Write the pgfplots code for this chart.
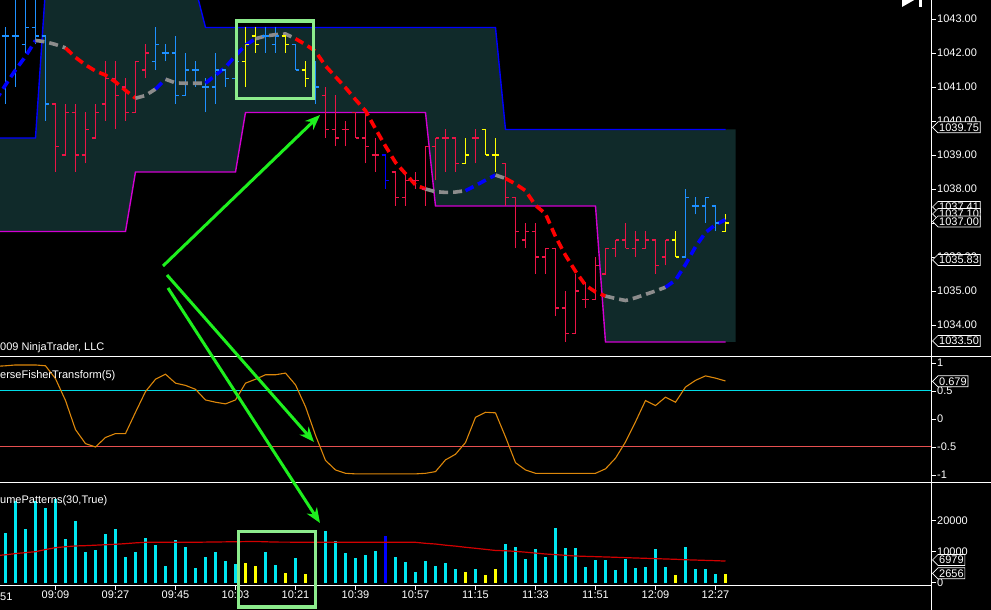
\documentclass[border=0pt]{standalone}
\usepackage{fontspec}
\setmainfont{Liberation Sans}
\usepackage{pgfplots}
\pgfplotsset{compat=1.18}
\usepackage{pgfplotstable}
\usetikzlibrary{arrows.meta, shapes.symbols}

\definecolor{bandfill}{RGB}{16,42,42}
\definecolor{pred}{RGB}{235,20,70}
\definecolor{pblue}{RGB}{30,144,255}
\definecolor{pyel}{RGB}{255,255,0}
\definecolor{pdark}{RGB}{0,0,255}
\definecolor{mared}{RGB}{255,0,0}
\definecolor{mablue}{RGB}{0,0,255}
\definecolor{magray}{RGB}{140,140,140}
\definecolor{bandup}{RGB}{0,0,255}
\definecolor{bandlo}{RGB}{210,0,210}
\definecolor{iftc}{RGB}{220,135,10}
\definecolor{lvlc}{RGB}{0,220,230}
\definecolor{lvlr}{RGB}{230,80,80}
\definecolor{volc}{RGB}{0,230,240}
\definecolor{volavg}{RGB}{210,0,0}
\definecolor{arrowg}{RGB}{30,240,30}
\definecolor{boxg}{RGB}{140,235,140}

\newcommand\tf{\fontsize{11}{12}\selectfont}

\pgfdeclareplotmark{otick}{\pgfpathmoveto{\pgfqpoint{-3.8pt}{0pt}}\pgfpathlineto{\pgfqpoint{0pt}{0pt}}\pgfusepathqstroke}
\pgfdeclareplotmark{ctick}{\pgfpathmoveto{\pgfqpoint{0pt}{0pt}}\pgfpathlineto{\pgfqpoint{3.8pt}{0pt}}\pgfusepathqstroke}

% open / close of the bars, grouped by colour
\pgfplotstableread{
k o c
-5 1042.5 1042.5
-4 1042.5 1042.5
-3 1042.25 1042.75
-2 1042.75 1042.5
-1 1042.5 1040.5
10 1041.75 1042.25
11 1042.0 1042.0
12 1042.0 1040.75
13 1040.75 1041.5
14 1041.5 1041.5
15 1041.0 1041.0
16 1041.0 1041.5
17 1041.5 1041.25
18 1041.25 1041.75
21 1042.5 1042.5
22 1042.25 1042.5
24 1042.25 1041.5
26 1041.25 1041.0
63 1036.0 1037.75
64 1037.5 1037.5
65 1037.5 1037.75
66 1037.5 1037.0
}\barsB
\pgfplotstableread{
k o c
0 1040.5 1039.25
1 1039.0 1040.25
2 1040.25 1039.0
3 1039.0 1039.75
4 1039.5 1040.25
5 1040.5 1041.25
6 1041.25 1040.75
7 1041.0 1040.25
8 1040.25 1041.75
9 1041.5 1042.0
27 1040.75 1039.75
28 1039.75 1039.5
29 1039.75 1039.75
30 1040.25 1039.5
31 1039.5 1039.25
32 1039.0 1039.0
34 1038.5 1037.75
35 1037.75 1038.25
36 1038.25 1038.25
37 1038.0 1039.25
38 1039.25 1039.5
39 1039.5 1039.5
40 1039.5 1038.75
42 1039.5 1039.5
45 1038.75 1037.75
46 1037.75 1036.75
47 1036.5 1036.75
48 1036.75 1036.0
49 1036.0 1036.25
50 1036.25 1034.5
51 1034.5 1033.75
52 1033.75 1035.0
53 1034.75 1034.75
54 1034.75 1035.75
55 1035.5 1036.25
56 1036.25 1036.5
57 1036.5 1036.25
58 1036.25 1036.5
59 1036.25 1036.5
60 1036.5 1035.75
61 1036.0 1036.5
}\barsR
\pgfplotstableread{
k o c
19 1041.75 1042.25
20 1042.5 1042.25
23 1042.5 1042.25
25 1041.5 1041.25
41 1038.75 1039.0
43 1039.75 1039.0
44 1039.0 1039.0
62 1036.5 1036.0
67 1036.75 1037.0
}\barsY
\pgfplotstableread{
k o c
33 1039.0 1038.25
}\barsD

% moving average
\pgfplotstableread{
k v
-6 1040.6
-5 1041.06
-4 1041.5
-3 1041.9
-2 1042.37
-1 1042.33
0 1042.25
1 1042.15
2 1041.87
3 1041.65
4 1041.47
5 1041.35
6 1041.15
7 1040.9
8 1040.67
9 1040.75
10 1040.94
11 1041.23
12 1041.12
13 1041.11
14 1041.11
15 1041.11
16 1041.35
17 1041.58
18 1041.92
19 1042.23
20 1042.42
21 1042.5
22 1042.54
23 1042.56
24 1042.42
25 1042.25
26 1042.05
27 1041.62
28 1041.3
29 1040.98
30 1040.63
31 1040.3
32 1039.77
33 1039.26
34 1038.78
35 1038.45
36 1038.12
37 1038.0
38 1037.92
39 1037.9
40 1037.91
41 1037.95
42 1038.1
43 1038.26
44 1038.41
45 1038.31
46 1038.15
47 1037.95
48 1037.52
49 1037.27
50 1036.6
51 1036.05
52 1035.58
53 1035.17
54 1034.97
55 1034.85
56 1034.78
57 1034.72
58 1034.8
59 1034.9
60 1035.0
61 1035.11
62 1035.32
63 1035.78
64 1036.3
65 1036.72
66 1036.95
67 1037.10
}\ma

% inverse Fisher transform
\pgfplotstableread{
k v
-6 0.94
-5 0.95
-4 0.965
-3 0.965
-2 0.965
-1 0.95
0 0.72
1 0.33
2 -0.19
3 -0.44
4 -0.50
5 -0.33
6 -0.26
7 -0.26
8 0.12
9 0.49
10 0.71
11 0.80
12 0.64
13 0.60
14 0.53
15 0.34
16 0.30
17 0.27
18 0.34
19 0.64
20 0.71
21 0.79
22 0.79
23 0.82
24 0.61
25 0.22
26 -0.29
27 -0.74
28 -0.91
29 -0.97
30 -0.98
31 -0.98
32 -0.98
33 -0.98
34 -0.98
35 -0.98
36 -0.98
37 -0.97
38 -0.94
39 -0.73
40 -0.63
41 -0.42
42 0.03
43 0.12
44 0.11
45 -0.32
46 -0.78
47 -0.91
48 -0.97
49 -0.97
50 -0.97
51 -0.97
52 -0.97
53 -0.97
54 -0.97
55 -0.89
56 -0.70
57 -0.41
58 -0.05
59 0.33
60 0.24
61 0.39
62 0.30
63 0.57
64 0.69
65 0.77
66 0.73
67 0.679
}\ift

% volume
\pgfplotstableread{
k v
-5 16100
-4 26450
-3 17300
-2 26450
-1 24200
0 27000
1 14100
2 19900
3 10000
4 10550
5 15700
6 17300
7 8300
8 10000
9 14500
10 12150
11 5400
12 13750
13 11500
14 4750
15 8300
16 10000
17 7100
18 6050
21 10000
22 5700
24 7950
26 8000
27 16750
28 13450
29 9700
30 8050
31 8950
32 10300
34 8300
35 6750
36 3550
37 7100
38 5500
39 6250
40 4400
42 4400
45 12500
46 11500
47 7650
48 10850
49 8300
50 17650
51 11200
52 11200
53 5050
54 7300
55 7300
56 4100
57 7650
58 4750
59 5050
60 10850
61 5050
63 11500
64 4400
65 4400
66 2800
}\volC
\pgfplotstableread{
k v
19 6450
20 5400
23 3150
25 2800
41 3550
43 2500
44 4400
62 2500
67 2656
}\volY
\pgfplotstableread{
k v
33 15050
}\volD
\pgfplotstableread{
k v
-6 8700
-5 9000
-4 9400
-3 9700
-2 10000
-1 10700
0 11300
1 11600
2 11850
3 11950
4 12100
5 12250
6 12400
7 12600
8 12850
9 13030
14 13050
20 13300
22 13100
27 13030
36 13030
37 12700
38 12480
39 12100
40 11800
41 11420
42 11100
43 10750
44 10400
45 10300
46 10100
47 9850
48 9550
49 9260
50 9050
51 8830
52 8610
53 8500
54 8400
55 8300
56 8200
57 8080
58 7970
59 7870
60 7760
61 7650
62 7550
63 7400
64 7300
65 7200
66 7100
67 6979
}\volavg

\pgfplotsset{ninja/.style={scale only axis, width=931pt, xmin=-5.55, xmax=87.55,
  tick align=outside, major tick length=5pt,
  tick style={draw=white, line width=0.8pt},
  axis line style={draw=white, line width=0.8pt},
  ticklabel style={font=\tf, text=white},
  yticklabel style={anchor=west, inner xsep=1pt},
  scaled y ticks=false,
  clip=true},
  hl/.style={line width=1.2pt, unbounded coords=jump, line cap=butt},
  oc/.style={only marks, mark options={solid, draw=#1, line width=1.2pt}, #1}}

\newcommand\tagat[2]{\node[signal, signal to=west, signal pointer angle=90, draw=white, fill=black,
  text=white, font=\tf, inner xsep=1.2pt, inner ysep=1.6pt, line width=0.7pt, anchor=west]
  at (932,{610-#1}) {#2};}

\begin{document}
\begin{tikzpicture}[x=1pt,y=1pt]
\useasboundingbox (0,0) rectangle (991,610);
\fill[black] (0,0) rectangle (991,610);

% ---------------- price panel ----------------
\begin{axis}[ninja, at={(0pt,254pt)}, anchor=south west, height=356pt,
  ymin=1033.088, ymax=1043.559, axis x line=none, axis y line*=right,
  ytick={1034,1035,1036,1037,1038,1039,1040,1041,1042,1043},
  yticklabels={1034.00,1035.00,1036.00,1037.00,1038.00,1039.00,1040.00,1041.00,1042.00,1043.00}]
\addplot[fill=bandfill, draw=none] coordinates {
 (-6,1039.5) (-2,1039.5) (-1,1043.9) (14,1043.9) (15,1042.75) (44,1042.75) (45,1039.75) (68,1039.75)
 (68,1033.5) (55,1033.5) (54,1037.5) (38,1037.5) (37,1040.25) (19,1040.25) (18,1038.5) (8,1038.5) (7,1036.75) (-6,1036.75)};
\addplot[bandup, line width=1.4pt] coordinates {
 (-6,1039.5) (-2,1039.5) (-1,1043.9) (14,1043.9) (15,1042.75) (44,1042.75) (45,1039.75) (67,1039.75)};
\addplot[bandlo, line width=1.4pt] coordinates {
 (-6,1036.75) (7,1036.75) (8,1038.5) (18,1038.5) (19,1040.25) (37,1040.25) (38,1037.5) (54,1037.5) (55,1033.5) (67,1033.5)};
% high-low ranges
\addplot[pblue, hl] coordinates {
 (-5,1040.5) (-5,1042.75) (-5,nan) (-4,1041.0) (-4,1043.75) (-4,nan) (-3,1042.0) (-3,1043.75) (-3,nan)
 (-2,1042.25) (-2,1043.75) (-2,nan) (-1,1040.0) (-1,1042.5) (-1,nan)
 (10,1041.5) (10,1042.75) (10,nan) (11,1041.75) (11,1042.25) (11,nan) (12,1040.5) (12,1042.5) (12,nan)
 (13,1040.75) (13,1042.0) (13,nan) (14,1041.0) (14,1041.75) (14,nan) (15,1040.25) (15,1041.25) (15,nan)
 (16,1040.5) (16,1042.0) (16,nan) (17,1041.0) (17,1041.5) (17,nan) (18,1041.0) (18,1042.0) (18,nan)
 (21,1042.0) (21,1042.75) (21,nan) (22,1042.0) (22,1042.75) (22,nan) (24,1041.5) (24,1042.25) (24,nan)
 (26,1040.5) (26,1041.75) (26,nan) (63,1036.0) (63,1038.0) (63,nan) (64,1037.25) (64,1037.75) (64,nan)
 (65,1037.0) (65,1037.75) (65,nan) (66,1036.75) (66,1037.5)};
\addplot[pred, hl] coordinates {
 (0,1038.5) (0,1040.5) (0,nan) (1,1039.0) (1,1040.5) (1,nan) (2,1038.5) (2,1040.5) (2,nan)
 (3,1038.75) (3,1040.25) (3,nan) (4,1039.5) (4,1040.5) (4,nan) (5,1040.0) (5,1041.75) (5,nan)
 (6,1039.75) (6,1041.75) (6,nan) (7,1040.0) (7,1041.25) (7,nan) (8,1040.25) (8,1041.75) (8,nan)
 (9,1041.25) (9,1042.25) (9,nan) (27,1039.5) (27,1041.0) (27,nan) (28,1039.25) (28,1040.75) (28,nan)
 (29,1039.25) (29,1040.0) (29,nan) (30,1039.5) (30,1040.25) (30,nan) (31,1038.75) (31,1040.25) (31,nan)
 (32,1038.5) (32,1039.5) (32,nan) (34,1037.5) (34,1038.5) (34,nan) (35,1037.5) (35,1038.5) (35,nan)
 (36,1038.0) (36,1038.5) (36,nan) (37,1037.5) (37,1039.25) (37,nan) (38,1038.25) (38,1039.5) (38,nan)
 (39,1038.5) (39,1039.75) (39,nan) (40,1038.5) (40,1039.5) (40,nan) (42,1038.75) (42,1039.75) (42,nan)
 (45,1037.5) (45,1038.75) (45,nan) (46,1036.25) (46,1037.75) (46,nan) (47,1036.25) (47,1037.0) (47,nan)
 (48,1035.5) (48,1037.0) (48,nan) (49,1035.5) (49,1036.25) (49,nan) (50,1034.25) (50,1036.25) (50,nan)
 (51,1033.5) (51,1035.0) (51,nan) (52,1033.75) (52,1035.5) (52,nan) (53,1034.5) (53,1035.25) (53,nan)
 (54,1034.75) (54,1036.0) (54,nan) (55,1035.5) (55,1036.25) (55,nan) (56,1036.0) (56,1036.5) (56,nan)
 (57,1036.25) (57,1037.0) (57,nan) (58,1036.0) (58,1036.75) (58,nan) (59,1036.25) (59,1036.75) (59,nan)
 (60,1035.5) (60,1036.5) (60,nan) (61,1035.75) (61,1036.5)};
\addplot[pyel, hl] coordinates {
 (19,1041.0) (19,1042.75) (19,nan) (20,1042.0) (20,1042.75) (20,nan) (23,1042.0) (23,1042.5) (23,nan)
 (25,1041.0) (25,1041.75) (25,nan) (41,1038.75) (41,1039.5) (41,nan) (43,1039.0) (43,1039.75) (43,nan)
 (44,1038.5) (44,1039.5) (44,nan) (62,1036.0) (62,1036.75) (62,nan) (67,1036.75) (67,1037.25)};
\addplot[pdark, hl] coordinates {(33,1038.0) (33,1039.0)};
% open and close ticks
\addplot[oc=pblue, mark=otick] table[x=k, y=o] {\barsB};
\addplot[oc=pblue, mark=ctick] table[x=k, y=c] {\barsB};
\addplot[oc=pred, mark=otick] table[x=k, y=o] {\barsR};
\addplot[oc=pred, mark=ctick] table[x=k, y=c] {\barsR};
\addplot[oc=pyel, mark=otick] table[x=k, y=o] {\barsY};
\addplot[oc=pyel, mark=ctick] table[x=k, y=c] {\barsY};
\addplot[oc=pdark, mark=otick] table[x=k, y=o] {\barsD};
\addplot[oc=pdark, mark=ctick] table[x=k, y=c] {\barsD};
% moving average
\pgfplotsset{madash/.style={line width=3.6pt, dash pattern=on 9pt off 5pt}}
\addplot[mablue, madash, restrict x to domain=-6:-2] table[x=k,y=v] {\ma};
\addplot[magray, madash, restrict x to domain=-2:1] table[x=k,y=v] {\ma};
\addplot[mared,  madash, restrict x to domain=1:8] table[x=k,y=v] {\ma};
\addplot[magray, madash, restrict x to domain=8:10] table[x=k,y=v] {\ma};
\addplot[mablue, madash, restrict x to domain=10:11] table[x=k,y=v] {\ma};
\addplot[magray, madash, restrict x to domain=11:15] table[x=k,y=v] {\ma};
\addplot[mablue, madash, restrict x to domain=15:20] table[x=k,y=v] {\ma};
\addplot[magray, madash, restrict x to domain=20:24] table[x=k,y=v] {\ma};
\addplot[mared,  madash, restrict x to domain=24:37] table[x=k,y=v] {\ma};
\addplot[magray, madash, restrict x to domain=37:41] table[x=k,y=v] {\ma};
\addplot[mablue, madash, restrict x to domain=41:44] table[x=k,y=v] {\ma};
\addplot[magray, madash, restrict x to domain=44:45] table[x=k,y=v] {\ma};
\addplot[mared,  madash, restrict x to domain=45:55] table[x=k,y=v] {\ma};
\addplot[magray, madash, restrict x to domain=55:61] table[x=k,y=v] {\ma};
\addplot[mablue, madash, restrict x to domain=61:67] table[x=k,y=v] {\ma};
\end{axis}

% ---------------- inverse Fisher panel ----------------
\begin{axis}[ninja, at={(0pt,128pt)}, anchor=south west, height=126pt,
  ymin=-1.125, ymax=1.125, axis x line=none, axis y line*=right,
  ytick={-1,-0.5,0,0.5,1}, yticklabels={-1,-0.5,0,0.5,1}]
\addplot[lvlc, line width=1pt] coordinates {(-6,0.5) (88,0.5)};
\addplot[lvlr, line width=1pt] coordinates {(-6,-0.5) (88,-0.5)};
\addplot[iftc, line width=1.1pt] table[x=k,y=v] {\ift};
\end{axis}

% ---------------- volume panel ----------------
\begin{axis}[ninja, at={(0pt,25pt)}, anchor=south west, height=103pt,
  ymin=-742, ymax=32484, axis x line*=bottom, axis y line*=right,
  ytick={0,10000,20000}, yticklabels={0,10000,20000},
  xtick={0,6,12,18,24,30,36,42,48,54,60,66},
  xticklabels={09:09,09:27,09:45,10:03,10:21,10:39,10:57,11:15,11:33,11:51,12:09,12:27},
  xticklabel style={anchor=north, inner ysep=1pt}]
\addplot[ycomb, volc, line width=2.2pt] table[x=k,y=v] {\volC};
\addplot[ycomb, pyel, line width=2.2pt] table[x=k,y=v] {\volY};
\addplot[ycomb, pdark, line width=2.2pt] table[x=k,y=v] {\volD};
\addplot[volavg, line width=1.2pt] table[x=k,y=v] {\volavg};
\end{axis}

% visible part of the first time label
\node[anchor=north west, inner xsep=0pt, inner ysep=1pt, text=white, font=\tf] at (0,610-592) {51};

% separators and right axis line
\draw[white, line width=0.8pt] (0,610-356) -- (991,610-356);
\draw[white, line width=0.8pt] (0,610-482) -- (991,610-482);
\draw[white, line width=0.8pt] (931,0) -- (931,610);

% panel captions
\node[anchor=base west, inner sep=0pt, text=white, font=\tf] at (0,610-350.5) {009 NinjaTrader, LLC};
\node[anchor=base west, inner sep=0pt, text=white, font=\tf] at (0,610-378.5) {erseFisherTransform(5)};
\node[anchor=base west, inner sep=0pt, text=white, font=\tf] at (0,610-504) {umePatterns(30,True)};

% value tags
\tagat{127.3}{1039.75}
\tagat{207}{1037.41}
\tagat{214}{1037.10}
\tagat{221.5}{1037.00}
\tagat{260}{1035.83}
\tagat{341}{1033.50}
\tagat{381.3}{0.679}
\tagat{560}{6979}
\tagat{573.3}{2656}

% top-right icon
\fill[white] (902,619) -- (916,611) -- (902,603) -- cycle;
\fill[white] (919,619) rectangle (922,603);

% annotations
\draw[boxg, line width=3.3pt] (236.7,610-21) rectangle (313.3,610-98.3);
\draw[boxg, line width=3.3pt] (238.3,610-531.7) rectangle (315.7,610-607);
\draw[arrowg, line width=3pt, -{Stealth[length=15pt, width=12pt]}] (163,610-266) -- (320,610-115);
\draw[arrowg, line width=3pt, -{Stealth[length=15pt, width=12pt]}] (167,610-275) -- (314,610-442);
\draw[arrowg, line width=3pt, -{Stealth[length=15pt, width=12pt]}] (168,610-288) -- (320,610-523);
\end{tikzpicture}
\end{document}
